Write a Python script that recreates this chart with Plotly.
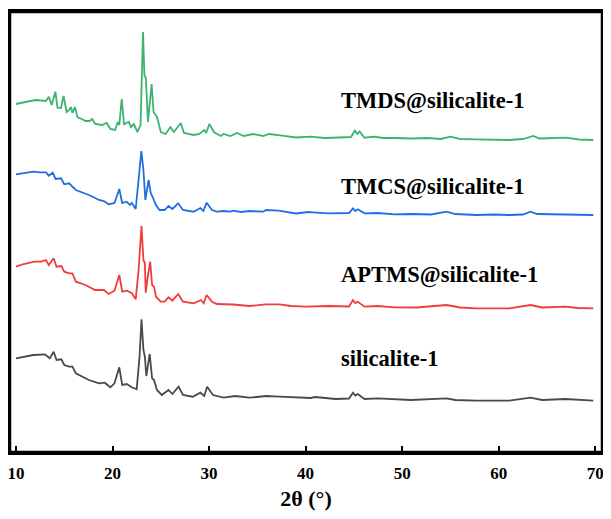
import plotly.graph_objects as go

# 2theta (deg) and intensity (a.u., stacked)
theta_s1 = [10.0, 10.8, 11.8, 13.0, 13.5, 13.9, 14.2, 14.7, 15.0, 15.5, 15.85, 16.2, 16.8, 17.55, 18.6, 19.2,
            19.77, 20.2, 20.7, 21.0, 21.46, 22.0, 22.5, 22.8, 23.0, 23.2, 23.35, 23.5, 23.85, 24.1, 24.3, 24.6,
            25.1, 25.8, 26.2, 26.84, 27.3, 28.3, 29.1, 29.5, 29.8, 30.4, 31.5, 32.7, 34.2, 35.9, 37.3, 38.9,
            40.5, 41.0, 43.1, 44.5, 44.9, 45.15, 45.4, 46.1, 47.5, 50.9, 54.6, 55.5, 57.7, 61.1, 63.3, 64.5,
            66.9, 69.8]
int_s1 = [93.7, 95, 97, 97.7, 93.7, 100.3, 92, 92.7, 87, 85.3, 85.3, 78.7, 76, 72, 68.7, 69.3,
          64.7, 68.7, 84.7, 67, 68, 64.7, 62.7, 95.3, 132.7, 102, 95.3, 76, 98, 73.7, 72, 62,
          57, 62, 58, 65.3, 57, 55.3, 59.3, 56, 65.3, 57, 54.3, 56, 54.3, 56, 55.3, 54.3,
          54, 55, 53, 53.5, 59.3, 56.5, 58, 53, 53.7, 52, 53.7, 52, 51.3, 51.3, 54.3, 52,
          53, 51.3]

theta_aptms = [10.0, 10.8, 11.9, 12.6, 13.1, 13.4, 13.9, 14.2, 14.7, 15.0, 15.5, 15.85, 16.2, 16.7, 17.2, 18.2,
               19.1, 19.6, 20.2, 20.7, 21.0, 21.5, 22.0, 22.4, 22.7, 23.0, 23.2, 23.35, 23.44, 23.65, 23.9, 24.1,
               24.3, 24.5, 25.0, 25.4, 25.8, 26.2, 26.8, 27.3, 28.4, 29.15, 29.45, 29.75, 30.3, 30.8, 32.5, 34.2,
               35.9, 37.3, 38.5, 40.0, 42.4, 44.5, 44.9, 45.15, 45.4, 46.1, 47.5, 49.2, 51.5, 54.6, 56.0, 57.7,
               59.5, 61.1, 63.3, 64.5, 66.9, 68.2, 69.8]
int_aptms = [185.3, 188, 190.3, 190.3, 192, 187, 193.7, 185.3, 186, 180.3, 178.7, 178.7, 170.3, 169, 167, 162,
             162, 158, 161.3, 177, 160.3, 161.3, 158.7, 152.7, 182, 226, 192, 189, 159.3, 175.3, 190.3, 167,
             165.3, 155.3, 150.3, 150.3, 154.7, 151.3, 158, 150.3, 148.7, 152, 148.7, 157, 150.3, 148, 147.5, 146,
             147.7, 147.7, 146, 145.3, 146, 145.5, 152, 149, 150.3, 145.3, 146, 144.7, 144.5, 147, 144.5, 143.7,
             144, 143.7, 147, 144.5, 145.3, 144, 143.7]

theta_tmcs = [10.0, 10.8, 11.8, 12.4, 13.1, 13.4, 13.8, 14.1, 14.66, 15.0, 15.5, 16.2, 16.8, 17.55, 18.1, 18.6,
              19.1, 19.6, 20.2, 20.7, 21.0, 21.46, 21.8, 22.0, 22.4, 22.7, 22.99, 23.2, 23.4, 23.74, 23.95, 24.2,
              24.5, 24.86, 25.4, 25.8, 26.2, 26.8, 27.3, 28.4, 29.1, 29.4, 29.75, 30.3, 30.8, 31.5, 32.2, 32.5,
              33.3, 34.2, 35.6, 35.9, 37.2, 39.0, 40.3, 40.7, 42.4, 44.5, 44.9, 45.15, 45.4, 46.1, 47.5, 49.2,
              51.0, 53.0, 54.6, 55.5, 57.7, 59.5, 61.1, 62.5, 63.3, 64.0, 66.2, 68.0, 69.8]
int_tmcs = [277.7, 279, 280.3, 279.7, 279.7, 276.3, 279.3, 273, 273.7, 267.7, 268.7, 262, 260, 257, 254.5, 252,
            251, 247.7, 249, 263, 249, 250.3, 247, 249, 243, 270.3, 301, 282, 252, 272, 259, 254,
            247, 242, 242, 246, 243, 248.7, 242, 240.3, 244, 241, 249.3, 242, 240.3, 241, 240.3, 241.3,
            240, 241, 240.3, 242, 241.3, 238.5, 240, 239.7, 238.7, 239, 243.7, 241, 242.7, 238.7, 239, 237.7,
            238, 237.5, 240.3, 238, 237, 237.5, 237, 237.5, 240.3, 238, 237.7, 237.5, 237]

theta_tmds = [10.0, 10.8, 11.5, 12.1, 12.7, 13.1, 13.4, 13.7, 14.08, 14.3, 14.66, 14.93, 15.24, 15.5, 15.7, 15.85,
              16.1, 16.36, 16.8, 17.2, 17.6, 17.9, 18.2, 18.9, 19.4, 19.77, 20.27, 20.55, 20.7, 20.95, 21.2, 21.4,
              21.7, 21.9, 22.2, 22.58, 22.9, 23.16, 23.3, 23.45, 23.67, 23.85, 24.05, 24.25, 24.45, 24.6, 25.0, 25.5,
              26.0, 26.35, 27.07, 27.4, 28.4, 29.0, 29.5, 29.7, 30.03, 30.5, 31.2, 31.5, 32.2, 32.9, 33.6, 34.56,
              35.6, 36.2, 37.6, 39.0, 40.5, 42.0, 43.5, 44.7, 45.1, 45.35, 45.6, 46.1, 47.1, 48.0, 49.2, 51.0,
              52.6, 54.0, 55.0, 56.0, 57.7, 59.5, 61.1, 62.5, 63.6, 64.2, 65.5, 67.0, 68.3, 69.8]
int_tmds = [348, 350, 351, 352, 351.5, 351, 355.3, 347, 360.3, 344.3, 344, 356, 340, 342, 345, 339,
            345, 335, 333, 331, 331, 333, 328, 327, 329, 323, 322, 330, 327, 353, 327, 329,
            330, 325, 328, 320, 327, 420, 377, 374, 330, 347, 368, 340, 337, 335, 320, 318,
            325, 320, 329, 319, 317, 318, 322, 319, 328, 320, 316, 318, 316, 319, 316, 318,
            316, 318, 316.3, 314.5, 315.3, 314, 314.5, 315, 321.3, 318, 320.3, 314.3, 315.3, 314, 314, 313.5,
            314, 313, 315.3, 313, 312.7, 312.5, 312, 313, 316, 313.5, 314, 314.3, 312.5, 312]

series_names = ["silicalite-1", "APTMS@silicalite-1", "TMCS@silicalite-1", "TMDS@silicalite-1"]
series_theta = [theta_s1, theta_aptms, theta_tmcs, theta_tmds]
series_int = [int_s1, int_aptms, int_tmcs, int_tmds]
series_colors = ["#4a4a4a", "#f03c3c", "#1f6fe3", "#3cb371"]
label_pos_y = [94, 177, 265, 351]
label_pos_x = [43.5, 43.5, 43.5, 43.5]

x_ticks = [10, 20, 30, 40, 50, 60, 70]

fig = go.Figure()
for name, th, it, col in zip(series_names, series_theta, series_int, series_colors):
    fig.add_trace(go.Scatter(x=th, y=it, mode="lines", name=name,
                             line=dict(color=col, width=1.8), showlegend=False))

for name, lx, ly in zip(series_names, label_pos_x, label_pos_y):
    fig.add_annotation(x=lx, y=ly, xref="x", yref="y", text=name, showarrow=False,
                       xanchor="left", yanchor="middle",
                       font=dict(family="Liberation Serif", size=22.5, color="black", weight="bold"))

# explicit frame around the plotting area
fig.add_shape(type="rect", xref="paper", yref="paper", x0=0, y0=0, x1=1, y1=1,
              line=dict(color="black", width=2.5), fillcolor="rgba(0,0,0,0)", layer="above")

fig.update_layout(
    width=597, height=503,
    margin=dict(l=2, r=3, t=4, b=59, autoexpand=False),
    paper_bgcolor="white", plot_bgcolor="white",
    showlegend=False,
)
fig.update_xaxes(
    range=[9.38, 70.7], tickvals=x_ticks, ticktext=[str(v) for v in x_ticks],
    ticks="inside", ticklen=6, tickwidth=2, tickcolor="black",
    showline=True, linewidth=2.5, linecolor="black", mirror=True,
    showgrid=False, zeroline=False, automargin=False, ticklabelstandoff=4,
    ticklabeloverflow="allow",
    tickfont=dict(family="Liberation Serif", size=17, color="black", weight="bold"),
    title=dict(text="2θ (°)", standoff=14,
               font=dict(family="Liberation Serif", size=22, color="black", weight="bold")),
)
fig.update_yaxes(
    range=[0, 440], showticklabels=False, ticks="",
    showline=True, linewidth=2.5, linecolor="black", mirror=True,
    showgrid=False, zeroline=False, automargin=False,
)

fig.write_html("out.html")
